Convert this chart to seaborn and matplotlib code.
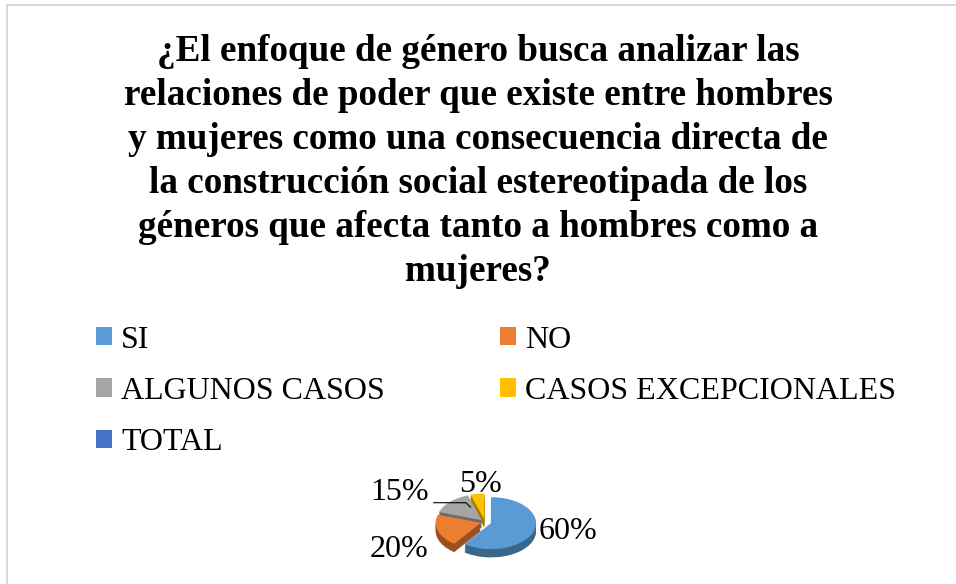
import numpy as np
import matplotlib
matplotlib.use("Agg")
import matplotlib.pyplot as plt
from matplotlib.patches import Patch
from matplotlib.lines import Line2D
import seaborn as sns

# datos
categorias = ["SI", "NO", "ALGUNOS CASOS", "CASOS EXCEPCIONALES", "TOTAL"]
porcentajes = [60, 20, 15, 5]
etiquetas = ["60%", "20%", "15%", "5%"]
colores = ["#5B9BD5", "#ED7D31", "#A5A5A5", "#FFC000", "#4472C4"]
titulo = ("¿El enfoque de género busca analizar las\n"
          "relaciones de poder que existe entre hombres\n"
          "y mujeres como una consecuencia directa de\n"
          "la construcción social estereotipada de los\n"
          "géneros que afecta tanto a hombres como a\n"
          "mujeres?")

sns.set_style("white")
plt.rcParams["font.family"] = ["Liberation Serif", "DejaVu Serif"]
plt.rcParams["text.color"] = "black"

fig = plt.figure(figsize=(9.56, 5.84), dpi=100)

# borde del area del grafico
fig.add_artist(Line2D([7 / 956, 1], [1 - 5 / 584, 1 - 5 / 584], color="#D9D9D9", lw=1.5))
fig.add_artist(Line2D([7 / 956, 7 / 956], [0, 1 - 5 / 584], color="#D9D9D9", lw=1.5))

fig.text(0.5, 1 - 34 / 584, titulo, ha="center", va="top", fontsize=26.7,
         fontweight="bold", linespacing=1.33, color="black")

# leyenda (orden por filas: la leyenda de matplotlib llena por columnas)
orden = [0, 2, 4, 1, 3]
handles = [Patch(facecolor=colores[i], edgecolor="none") for i in orden]
labels = [categorias[i] for i in orden]
leg = fig.legend(handles, labels, loc="upper left", bbox_to_anchor=(70 / 956, 1 - 300 / 584),
                 ncol=2, frameon=False, fontsize=23, handlelength=0.5, handleheight=0.5,
                 handletextpad=0.3, columnspacing=3.6, labelspacing=0.7, borderpad=0.3)
for t in leg.get_texts():
    t.set_color("black")

# pastel "3D" achatado
ax = fig.add_axes([365 / 956, 2 / 584, 240 / 956, 120 / 584])
ax.axis("off")

explode = [0.14, 0.1, 0.1, 0.1]
sombra = [tuple(np.array(matplotlib.colors.to_rgb(c)) * 0.65) for c in colores[:4]]
for k in range(8, 0, -1):
    ax.pie(porcentajes, colors=sombra, startangle=90, counterclock=False, explode=explode,
           center=(0, -0.04 * k), radius=1, wedgeprops=dict(linewidth=0))
wedges, _ = ax.pie(porcentajes, colors=colores[:4], startangle=90, counterclock=False,
                   explode=explode, radius=1, wedgeprops=dict(linewidth=0))
ax.set_aspect("auto")
ax.set_xlim(-2.667, 2.667)
ax.set_ylim(-2.31, 2.31)

dist_x = [1.95, 2.0, 2.7, 0.7]
dist_y = [1.2, 3.4, 1.63, 1.45]
for w, lab, dx, dy in zip(wedges, etiquetas, dist_x, dist_y):
    ang = np.deg2rad((w.theta1 + w.theta2) / 2)
    ax.text(dx * np.cos(ang), dy * np.sin(ang), lab, ha="center", va="center",
            fontsize=23, color="black")

# linea guia del 15%
ang = np.deg2rad((wedges[2].theta1 + wedges[2].theta2) / 2)
ax.plot([1.62 * np.cos(ang), 0.6 * np.cos(ang), 0.45 * np.cos(ang)],
        [1.05 * np.sin(ang), 1.05 * np.sin(ang), 0.8 * np.sin(ang)],
        color="black", lw=0.8)

fig.savefig("out.png", dpi=100)
